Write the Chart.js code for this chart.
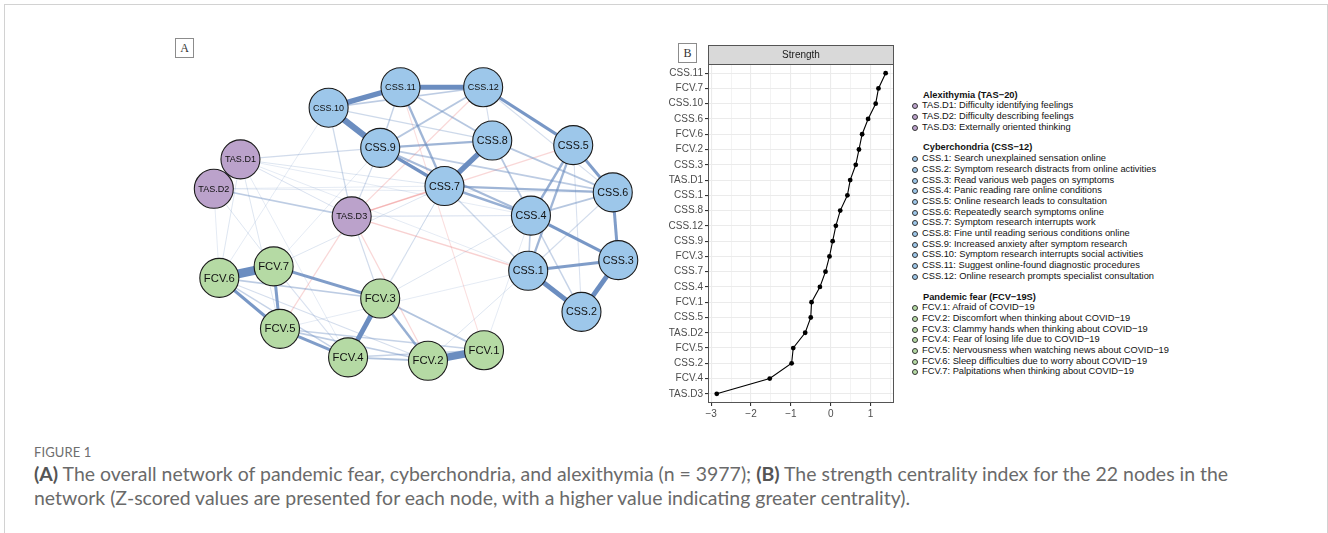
<!DOCTYPE html>
<html><head><meta charset="utf-8">
<script src="https://cdn.jsdelivr.net/npm/chart.js@4.4.1/dist/chart.umd.min.js"></script>
<style>
html,body{margin:0;padding:0;background:#fff;}
body{width:1328px;height:533px;overflow:hidden;position:relative;font-family:"Liberation Sans",Arial,sans-serif;}
#frame{position:absolute;left:4px;top:4px;width:1324px;height:620px;border:1px solid #d2d2d2;box-sizing:border-box;}
.tag{position:absolute;width:19px;height:20px;border:1px solid #8c8c8c;box-sizing:border-box;font-family:"Liberation Serif","DejaVu Serif",serif;font-size:12px;line-height:18px;text-align:center;color:#333;background:#fff;}
#netWrap{position:absolute;left:150px;top:30px;width:510px;height:380px;}
#strWrap{position:absolute;left:660px;top:40px;width:250px;height:385px;}
#legend{position:absolute;left:910px;top:89.6px;font-size:9.3px;line-height:10.7px;color:#111;white-space:nowrap;}
#legend .grp{margin-bottom:10px;}
#legend .hd{padding-left:13px;font-weight:bold;}
#legend .it{padding-left:12px;position:relative;}
#legend .dot{position:absolute;left:2px;top:3px;width:4px;height:4px;border-radius:50%;border:1px solid #333;}
#figlab{position:absolute;left:34px;top:444px;font-family:Lato,"Open Sans",sans-serif;font-size:13px;line-height:16px;color:#6e6e6e;letter-spacing:0.1px;}
#caption{position:absolute;left:34px;top:462px;font-family:Lato,"Open Sans",sans-serif;font-size:16.5px;line-height:24px;color:#6a6a6a;white-space:nowrap;}
#caption b{color:#555;}
</style>
</head><body>
<div id="frame"></div>
<div class="tag" style="left:175px;top:38px;">A</div>
<div class="tag" style="left:678px;top:43px;">B</div>
<div id="netWrap"><canvas id="net" width="510" height="380"></canvas></div>
<div id="strWrap"><canvas id="str" width="250" height="385"></canvas></div>
<div id="legend"></div>
<div id="figlab">FIGURE 1</div>
<div id="caption"><span id="cap1"><b>(A)</b> The overall network of pandemic fear, cyberchondria, and alexithymia (n = 3977); <b>(B)</b> The strength centrality index for the 22 nodes in the</span><br><span>network (Z-scored values are presented for each node, with a higher value indicating greater centrality).</span></div>
<script>
// ---------------- DATA ----------------
// Network nodes (layout coordinates)
const nodeNames = ['CSS.1','CSS.2','CSS.3','CSS.4','CSS.5','CSS.6','CSS.7','CSS.8','CSS.9','CSS.10','CSS.11','CSS.12',
                   'TAS.D1','TAS.D2','TAS.D3',
                   'FCV.1','FCV.2','FCV.3','FCV.4','FCV.5','FCV.6','FCV.7'];
const nodeGroup = ['CSS','CSS','CSS','CSS','CSS','CSS','CSS','CSS','CSS','CSS','CSS','CSS',
                   'TAS','TAS','TAS',
                   'FCV','FCV','FCV','FCV','FCV','FCV','FCV'];
const layoutX = [0.561,0.813,0.987,0.574,0.774,0.961,0.165,0.391,-0.139,-0.383,-0.043,0.348,
                 -0.800,-0.926,-0.274,
                 0.352,0.087,-0.139,-0.291,-0.613,-0.900,-0.643];
const layoutY = [-0.335,-0.606,-0.265,0.029,0.494,0.182,0.224,0.524,0.476,0.741,0.876,0.876,
                 0.400,0.206,0.024,
                 -0.859,-0.929,-0.518,-0.906,-0.718,-0.382,-0.306];
// Edges (partial correlations, estimated)
const edgeFrom = ['FCV.6','FCV.1','CSS.10','CSS.10','CSS.11','TAS.D1','CSS.7','CSS.1','CSS.2','FCV.3',
  'CSS.12','CSS.5','CSS.6','CSS.1','CSS.4','CSS.9','FCV.6','FCV.7','FCV.7','FCV.5',
  'FCV.3','CSS.4','CSS.1','CSS.7','CSS.7','CSS.9','CSS.11','CSS.9','CSS.9','CSS.10',
  'CSS.10','CSS.12','CSS.11','CSS.12','CSS.12','CSS.8','CSS.8','CSS.4','CSS.1','CSS.4',
  'CSS.1','CSS.5','CSS.7','CSS.10','TAS.D2','TAS.D1','TAS.D3','FCV.6','FCV.6','FCV.6',
  'FCV.5','FCV.5','FCV.4','FCV.4','FCV.3','FCV.7','TAS.D3','CSS.11',
  'TAS.D3','TAS.D3','TAS.D3','TAS.D3','TAS.D3','TAS.D3','FCV.1',
  'TAS.D1','TAS.D1','TAS.D1','TAS.D2','TAS.D2','TAS.D1','TAS.D1','TAS.D1','TAS.D2','TAS.D2',
  'FCV.7','FCV.7','FCV.3','FCV.3','FCV.2','FCV.1','FCV.6','TAS.D1','FCV.5','FCV.4','TAS.D3'];
const edgeTo = ['FCV.7','FCV.2','CSS.9','CSS.11','CSS.12','TAS.D2','CSS.8','CSS.2','CSS.3','FCV.4',
  'CSS.5','CSS.6','CSS.3','CSS.3','CSS.3','CSS.7','FCV.5','FCV.3','FCV.5','FCV.4',
  'FCV.2','CSS.5','CSS.5','CSS.6','CSS.4','CSS.8','CSS.7','CSS.4','CSS.6','CSS.12',
  'CSS.8','CSS.9','CSS.8','CSS.8','CSS.6','CSS.6','CSS.4','CSS.6','CSS.6','CSS.2',
  'CSS.4','CSS.2','CSS.1','TAS.D3','TAS.D3','CSS.9','CSS.9','FCV.3','FCV.4','FCV.2',
  'FCV.2','FCV.1','FCV.2','FCV.1','FCV.1','FCV.4','FCV.3','CSS.9',
  'CSS.7','CSS.12','CSS.5','CSS.1','FCV.2','FCV.5','CSS.11',
  'FCV.6','FCV.5','FCV.4','FCV.7','FCV.6','CSS.7','CSS.4','CSS.1','CSS.7','CSS.6',
  'CSS.9','CSS.7','CSS.7','CSS.4','CSS.1','CSS.4','CSS.10','TAS.D3','CSS.1','CSS.7','CSS.4'];
const edgeWeight = [0.95,0.80,0.65,0.55,0.50,0.60,0.55,0.50,0.50,0.50,
  0.30,0.28,0.28,0.28,0.30,0.32,0.30,0.28,0.28,0.28,
  0.22,0.22,0.20,0.20,0.22,0.20,0.20,0.18,0.12,0.12,
  0.08,0.14,0.14,0.06,0.06,0.14,0.14,0.14,0.07,0.10,
  0.12,0.05,0.08,0.08,0.12,0.07,0.07,0.12,0.10,0.06,
  0.12,0.10,0.15,0.10,0.15,0.05,0.07,0.10,
  -0.10,-0.07,-0.07,-0.09,-0.07,-0.07,-0.05,
  0.04,0.04,0.03,0.04,0.03,0.04,0.03,0.03,0.03,0.03,
  0.03,0.04,0.04,0.04,0.04,0.03,0.03,0.05,0.03,0.03,0.05];

// Strength centrality (z-scores), top to bottom
const strengthNodes = ['CSS.11','FCV.7','CSS.10','CSS.6','FCV.6','FCV.2','CSS.3','TAS.D1','CSS.1','CSS.8','CSS.12',
                       'CSS.9','FCV.3','CSS.7','CSS.4','FCV.1','CSS.5','TAS.D2','FCV.5','CSS.2','FCV.4','TAS.D3'];
const strengthZ = [1.38,1.20,1.13,0.94,0.79,0.71,0.63,0.49,0.42,0.24,0.13,
                   0.05,-0.03,-0.13,-0.27,-0.48,-0.50,-0.64,-0.94,-0.98,-1.53,-2.86];
const strengthTicks = [-3,-2.5,-2,-1.5,-1,-0.5,0,0.5,1,1.5];
const stripTitle = 'Strength';

// Legend texts
const legendGroups = ['TAS','CSS','FCV'];
const legendTitles = ['Alexithymia (TAS\u221220)','Cyberchondria (CSS\u221212)','Pandemic fear (FCV\u221219S)'];
const legendTAS = ['TAS.D1: Difficulty identifying feelings','TAS.D2: Difficulty describing feelings','TAS.D3: Externally oriented thinking'];
const legendCSS = ['CSS.1: Search unexplained sensation online','CSS.2: Symptom research distracts from online activities',
  'CSS.3: Read various web pages on symptoms','CSS.4: Panic reading rare online conditions','CSS.5: Online research leads to consultation',
  'CSS.6: Repeatedly search symptoms online','CSS.7: Symptom research interrupts work','CSS.8: Fine until reading serious conditions online',
  'CSS.9: Increased anxiety after symptom research','CSS.10: Symptom research interrupts social activities',
  'CSS.11: Suggest online-found diagnostic procedures','CSS.12: Online research prompts specialist consultation'];
const legendFCV = ['FCV.1: Afraid of COVID\u221219','FCV.2: Discomfort when thinking about COVID\u221219','FCV.3: Clammy hands when thinking about COVID\u221219',
  'FCV.4: Fear of losing life due to COVID\u221219','FCV.5: Nervousness when watching news about COVID\u221219',
  'FCV.6: Sleep difficulties due to worry about COVID\u221219','FCV.7: Palpitations when thinking about COVID\u221219'];

// ---------------- STYLE ----------------
const groupFill = {CSS:'#9DC7EA', TAS:'#BBA2CB', FCV:'#B5DAA4'};
const posRGB = [107,141,192], negRGB = [236,128,128];

// ---------------- LEGEND ----------------
(function(){
  const lists = [legendTAS, legendCSS, legendFCV];
  const leg = document.getElementById('legend');
  legendGroups.forEach((g,gi)=>{
    const grp = document.createElement('div'); grp.className='grp';
    const hd = document.createElement('div'); hd.className='hd'; hd.textContent = legendTitles[gi]; grp.appendChild(hd);
    lists[gi].forEach(t=>{
      const it = document.createElement('div'); it.className='it';
      const d = document.createElement('span'); d.className='dot'; d.style.background = groupFill[g];
      it.appendChild(d); it.appendChild(document.createTextNode(t)); grp.appendChild(it);
    });
    leg.appendChild(grp);
  });
})();

// ---------------- NETWORK (panel A) ----------------
const idx = n => nodeNames.indexOf(n);
const edgeOrder = edgeWeight.map((w,i)=>i).sort((a,b)=>Math.abs(edgeWeight[b])-Math.abs(edgeWeight[a]));
const edgeDatasets = edgeOrder.map(i=>{
  const w = edgeWeight[i], a = idx(edgeFrom[i]), b = idx(edgeTo[i]);
  const aw = Math.abs(w);
  const rgb = w >= 0 ? posRGB : negRGB;
  const alpha = Math.min(1, 0.13 + aw*2.6);
  return {
    data:[{x:layoutX[a],y:layoutY[a]},{x:layoutX[b],y:layoutY[b]}],
    showLine:true, pointRadius:0, pointHoverRadius:0, clip:false,
    borderColor:`rgba(${rgb[0]},${rgb[1]},${rgb[2]},${alpha})`,
    borderWidth: 0.6 + aw*8.6, borderCapStyle:'butt'
  };
});
const nodeDataset = {
  data: nodeNames.map((n,i)=>({x:layoutX[i], y:layoutY[i]})),
  pointRadius:19.5, pointHoverRadius:19.5, clip:false, showLine:false,
  pointBackgroundColor: nodeGroup.map(g=>groupFill[g]),
  pointBorderColor:'#1c1c1c', pointBorderWidth:1.1
};
const nodeLabelPlugin = {
  id:'nodeLabels',
  afterDatasetsDraw(chart){
    const c = chart.ctx, xs = chart.scales.x, ys = chart.scales.y;
    c.save(); c.fillStyle = '#111'; c.textAlign='center'; c.textBaseline='middle';
    nodeNames.forEach((n,i)=>{
      c.font = '12px "Liberation Sans", Arial, sans-serif';
      const w12 = c.measureText(n).width;
      const size = Math.min(11.3, 12*31/w12);
      c.font = size.toFixed(2)+'px "Liberation Sans", Arial, sans-serif';
      c.fillText(n, xs.getPixelForValue(layoutX[i]), ys.getPixelForValue(layoutY[i]) + 0.5);
    });
    c.restore();
  }
};
new Chart(document.getElementById('net'), {
  type:'scatter',
  data:{datasets:[nodeDataset, ...edgeDatasets]},
  options:{
    responsive:false, animation:false, events:[], devicePixelRatio:1,
    layout:{padding:0},
    plugins:{legend:{display:false}, tooltip:{enabled:false}},
    scales:{
      x:{type:'linear', min:-1.1304, max:1.0870, display:false},
      y:{type:'linear', min:-1.1176, max:1.1176, display:false}
    }
  },
  plugins:[nodeLabelPlugin]
});

// ---------------- STRENGTH (panel B) ----------------
const fmtTick = v => v < 0 ? '\u2212' + Math.abs(v) : String(v);
const panelPlugin = {
  id:'panel',
  afterDatasetsDraw(chart){
    const c = chart.ctx, a = chart.chartArea;
    c.save();
    c.strokeStyle = '#555'; c.lineWidth = 1;
    c.strokeRect(a.left+0.5, a.top+0.5, a.right-a.left-1, a.bottom-a.top-1);
    // strip
    const sh = 19;
    c.fillStyle = '#D9D9D9';
    c.fillRect(a.left+0.5, a.top-sh+0.5, a.right-a.left-1, sh);
    c.strokeRect(a.left+0.5, a.top-sh+0.5, a.right-a.left-1, sh);
    c.fillStyle = '#1A1A1A'; c.font = '10px "Liberation Sans", Arial, sans-serif';
    c.textAlign='center'; c.textBaseline='middle';
    c.fillText(stripTitle, (a.left+a.right)/2, a.top - sh/2 + 1);
    c.restore();
  }
};
new Chart(document.getElementById('str'), {
  type:'scatter',
  data:{datasets:[{
    data: strengthZ.map((v,i)=>({x:v, y:i+1})),
    showLine:true, borderColor:'#000', borderWidth:1.1, tension:0,
    pointRadius:2.4, pointHoverRadius:2.4, pointBackgroundColor:'#000', pointBorderWidth:0, clip:false
  }]},
  options:{
    responsive:false, animation:false, events:[], devicePixelRatio:1,
    layout:{padding:{top:24,right:16,left:0,bottom:0}},
    plugins:{legend:{display:false}, tooltip:{enabled:false}},
    scales:{
      x:{type:'linear', min:-3.08, max:1.59,
         afterBuildTicks: s => { s.ticks = strengthTicks.map(v=>({value:v})); },
         afterFit: s => { s.height = 22; },
         ticks:{autoSkip:false, maxRotation:0, padding:2, color:'#4D4D4D',
                font:{family:'"Liberation Sans", Arial, sans-serif', size:10},
                callback: v => Number.isInteger(v) ? fmtTick(v) : ''},
         grid:{color:'#EBEBEB', lineWidth: c => Number.isInteger(c.tick.value) ? 1.1 : 0.6,
               tickColor: c => Number.isInteger(c.tick.value) ? '#333' : 'rgba(0,0,0,0)', tickLength:3},
         border:{display:false}},
      y:{type:'linear', reverse:true, min:0.4, max:22.6,
         afterBuildTicks: s => { s.ticks = strengthNodes.map((n,i)=>({value:i+1})); },
         afterFit: s => { s.width = 48; },
         ticks:{autoSkip:false, padding:2, color:'#4D4D4D',
                font:{family:'"Liberation Sans", Arial, sans-serif', size:10},
                callback: v => strengthNodes[v-1]},
         grid:{color:'#EBEBEB', lineWidth:1.1, tickColor:'#333', tickLength:3},
         border:{display:false}}
    }
  },
  plugins:[panelPlugin]
});

// ---------------- caption fit ----------------
(function(){
  const s = document.getElementById('cap1');
  const w = s.getBoundingClientRect().width;
  const cap = document.getElementById('caption');
  const fs = parseFloat(getComputedStyle(cap).fontSize);
  cap.style.fontSize = (fs * 1195 / w).toFixed(2) + 'px';
})();
</script>
</body></html>
